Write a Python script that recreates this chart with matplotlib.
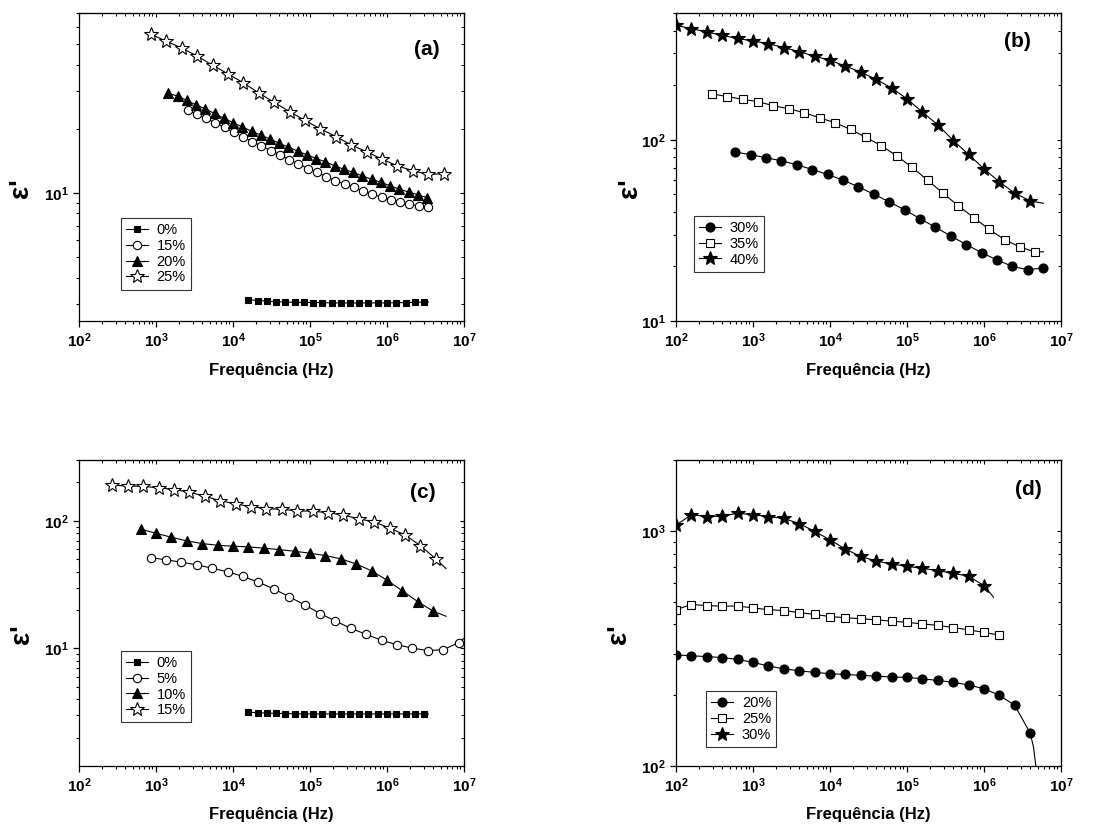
import math
import matplotlib
matplotlib.use('Agg')
import matplotlib.pyplot as plt
from matplotlib.ticker import LogLocator, FuncFormatter, NullFormatter

plt.rcParams['font.family'] = ['Liberation Sans', 'DejaVu Sans']
plt.rcParams['mathtext.fontset'] = 'custom'
plt.rcParams['mathtext.bf'] = 'Liberation Sans:bold'
plt.rcParams['mathtext.rm'] = 'Liberation Sans:bold'

# ============================================================
# Data (frequency in Hz, permittivity e')
# ============================================================
# --- panel (a)
a_f0 = [1.58e4, 2.09e4, 2.75e4, 3.63e4, 4.79e4, 6.31e4, 8.32e4, 1.10e5, 1.45e5, 1.91e5,
        2.51e5, 3.31e5, 4.37e5, 5.75e5, 7.59e5, 1.00e6, 1.32e6, 1.74e6, 2.29e6, 3.02e6]
a_e0 = [3.15, 3.12, 3.10, 3.08, 3.07, 3.06, 3.06, 3.05, 3.05, 3.04,
        3.04, 3.04, 3.04, 3.04, 3.04, 3.04, 3.05, 3.05, 3.06, 3.07]
a_f15 = [2570, 3388, 4467, 5888, 7762, 1.02e4, 1.35e4, 1.78e4, 2.34e4, 3.09e4,
         4.07e4, 5.37e4, 7.08e4, 9.33e4, 1.23e5, 1.62e5, 2.14e5, 2.82e5, 3.72e5, 4.90e5,
         6.46e5, 8.51e5, 1.12e6, 1.48e6, 1.95e6, 2.57e6, 3.39e6]
a_e15 = [24.4, 23.4, 22.4, 21.3, 20.3, 19.3, 18.3, 17.4, 16.6, 15.8,
         15.1, 14.3, 13.7, 13.0, 12.5, 11.9, 11.4, 11.0, 10.6, 10.2,
         9.86, 9.55, 9.27, 9.04, 8.84, 8.68, 8.56]
a_f20 = [1445, 1905, 2512, 3311, 4365, 5754, 7586, 1.00e4, 1.32e4, 1.74e4,
         2.29e4, 3.02e4, 3.98e4, 5.25e4, 6.92e4, 9.12e4, 1.20e5, 1.58e5, 2.09e5, 2.75e5,
         3.63e5, 4.79e5, 6.31e5, 8.32e5, 1.10e6, 1.45e6, 1.91e6, 2.51e6, 3.31e6]
a_e20 = [29.4, 28.5, 27.2, 25.9, 24.8, 23.6, 22.4, 21.4, 20.4, 19.5,
         18.7, 17.9, 17.1, 16.4, 15.7, 15.1, 14.5, 14.0, 13.4, 12.9,
         12.5, 12.0, 11.6, 11.2, 10.8, 10.4, 10.1, 9.8, 9.5]
a_f25 = [860, 1360, 2160, 3430, 5430, 8610, 1.36e4, 2.16e4, 3.43e4, 5.43e4,
         8.61e4, 1.36e5, 2.16e5, 3.43e5, 5.43e5, 8.61e5, 1.36e6, 2.16e6, 3.43e6, 5.43e6]
a_e25 = [55.6, 51.6, 47.9, 43.9, 39.8, 36.2, 32.9, 29.5, 26.6, 24.1,
         21.9, 20.0, 18.4, 16.8, 15.6, 14.4, 13.4, 12.7, 12.2, 12.3]

# --- panel (b)
b_f30 = [589, 933, 1479, 2344, 3715, 5888, 9333, 1.48e4, 2.34e4, 3.72e4,
         5.89e4, 9.33e4, 1.48e5, 2.34e5, 3.72e5, 5.89e5, 9.33e5, 1.48e6, 2.34e6, 3.72e6, 5.89e6]
b_e30 = [85.5, 82.7, 79.5, 76.5, 72.7, 68.5, 64.3, 59.8, 55.0, 50.0,
         45.4, 41.0, 36.7, 32.9, 29.4, 26.4, 23.8, 21.7, 20.0, 19.2, 19.6]
b_f35 = [293, 464, 735, 1165, 1846, 2926, 4638, 7350, 1.17e4, 1.85e4,
         2.93e4, 4.64e4, 7.35e4, 1.17e5, 1.85e5, 2.93e5, 4.64e5, 7.35e5, 1.17e6, 1.85e6,
         2.93e6, 4.64e6]
b_e35 = [179, 173, 167, 162, 154, 148, 141, 132, 124, 114,
         103, 92.7, 81.5, 70.3, 59.8, 50.7, 43.2, 37.2, 32.0, 28.1,
         25.6, 24.0]
b_f40 = [100, 158, 251, 398, 631, 1000, 1585, 2512, 3981, 6310,
         1.0e4, 1.58e4, 2.51e4, 3.98e4, 6.31e4, 1.0e5, 1.58e5, 2.51e5, 3.98e5, 6.31e5,
         1.0e6, 1.58e6, 2.51e6, 3.98e6]
b_e40 = [428, 410, 393, 376, 362, 350, 339, 322, 306, 289,
         274, 255, 236, 215, 193, 168, 142, 121, 99, 83,
         69, 58.6, 50.7, 46.0]

# --- panel (c)
c_f0 = a_f0
c_e0 = [3.17, 3.14, 3.12, 3.10, 3.09, 3.08, 3.07, 3.07, 3.07, 3.07,
        3.07, 3.07, 3.07, 3.07, 3.07, 3.07, 3.07, 3.07, 3.07, 3.08]
c_f5 = [851, 1349, 2138, 3388, 5370, 8511, 1.35e4, 2.14e4, 3.39e4, 5.37e4,
        8.51e4, 1.35e5, 2.14e5, 3.39e5, 5.37e5, 8.51e5, 1.35e6, 2.14e6, 3.39e6, 5.37e6, 8.51e6]
c_e5 = [51.6, 49.5, 47.5, 45.2, 42.6, 39.9, 36.7, 33.1, 29.3, 25.4,
        22.0, 18.8, 16.4, 14.4, 12.9, 11.6, 10.7, 10.06, 9.64, 9.77, 11.1]
c_f10 = [631, 1000, 1585, 2512, 3981, 6310, 1.0e4, 1.58e4, 2.51e4, 3.98e4,
         6.31e4, 1.0e5, 1.58e5, 2.51e5, 3.98e5, 6.31e5, 1.0e6, 1.58e6, 2.51e6, 3.98e6]
c_e10 = [86.1, 80.0, 74.4, 69.7, 66.4, 64.4, 63.3, 62.6, 61.1, 59.6,
         57.8, 55.8, 53.5, 50.4, 46.0, 40.6, 34.3, 28.3, 23.3, 19.6]
c_f15 = [271, 429, 680, 1078, 1708, 2710, 4290, 6800, 1.08e4, 1.71e4,
         2.71e4, 4.29e4, 6.80e4, 1.08e5, 1.71e5, 2.71e5, 4.29e5, 6.80e5, 1.08e6, 1.71e6,
         2.71e6, 4.29e6]
c_e15 = [190, 188, 186, 182, 176, 168, 156, 144, 136, 129,
         125, 123, 120, 119, 116, 111, 104, 98, 88, 77.6,
         64.1, 50.4]

# --- panel (d)
d_f20 = [100, 158, 251, 398, 631, 1000, 1585, 2512, 3981, 6310,
         1.0e4, 1.58e4, 2.51e4, 3.98e4, 6.31e4, 1.0e5, 1.58e5, 2.51e5, 3.98e5, 6.31e5,
         1.0e6, 1.58e6, 2.51e6, 3.98e6]
d_e20 = [297, 294, 292, 289, 284, 276, 266, 259, 254, 250,
         247, 245, 243, 241, 239, 238, 235, 231, 227, 221,
         213, 200, 181, 138]
d_f25 = d_f20[:22]
d_e25 = [462, 486, 481, 478, 479, 470, 462, 458, 449, 441,
         432, 427, 423, 418, 413, 408, 402, 396, 388, 379,
         370, 360]
d_f30 = d_f20[:21]
d_e30 = [1057, 1169, 1150, 1154, 1188, 1169, 1150, 1128, 1074, 994,
         916, 836, 778, 744, 722, 706, 693, 677, 660, 641, 585]

# line continuation past the last marker (no symbol)
a_tail0 = ([3.45e6], [3.07])
b_tail35 = ([5.9e6], [24.1])
b_tail40 = ([5.9e6], [44.6])
c_tail0 = ([3.45e6], [3.07])
c_tail5 = ([1.0e7], [12.0])
c_tail10 = ([5.84e6], [17.9])
c_tail15 = ([5.84e6], [42.3])
d_tail20 = ([4.4e6, 4.75e6], [120, 98])
d_tail30 = ([1.33e6], [522])

XLIM = (1e2, 1e7)

# axes boxes in figure pixels (left, top, right, bottom), figure 1096 x 825
W, H = 1096, 825
BOXES = {'a': (79, 13, 464, 321), 'b': (676, 13, 1061, 321),
         'c': (79, 460, 464, 766), 'd': (676, 460, 1061, 766)}


def sci(v, pos):
    return r'$\mathbf{10^{%d}}$' % int(round(math.log10(v)))


def draw(ax, f, e, label, marker, filled, ms, tail=None):
    xs, ys = list(f), list(e)
    if tail:
        xs += tail[0]
        ys += tail[1]
    ax.plot(xs, ys, color='k', lw=0.8, marker=marker, ms=ms,
            markevery=list(range(len(f))),
            mfc='k' if filled else 'white', mec='k', mew=0.8, label=label)


def style(ax, ylim, tag, tagxy, leg_xy, ylab_x):
    ax.set_xscale('log')
    ax.set_yscale('log')
    ax.set_xlim(*XLIM)
    ax.set_ylim(*ylim)
    for s in ax.spines.values():
        s.set_linewidth(0.9)
    for axis in (ax.xaxis, ax.yaxis):
        axis.set_major_locator(LogLocator(base=10, numticks=10))
        axis.set_minor_locator(LogLocator(base=10, subs=range(2, 10), numticks=20))
        axis.set_major_formatter(FuncFormatter(sci))
        axis.set_minor_formatter(NullFormatter())
    ax.tick_params(which='major', direction='out', length=4.5, width=0.9,
                   labelsize=11, pad=3)
    ax.tick_params(which='minor', direction='out', length=2.5, width=0.8)

    # inward ticks on the top and right spines
    top = ax.secondary_xaxis('top')
    right = ax.secondary_yaxis('right')
    for sec in (top, right):
        sec.tick_params(which='major', direction='in', length=3, width=0.8)
        sec.tick_params(which='minor', direction='in', length=2, width=0.7)
    top.xaxis.set_major_formatter(NullFormatter())
    top.xaxis.set_minor_formatter(NullFormatter())
    right.yaxis.set_major_formatter(NullFormatter())
    right.yaxis.set_minor_formatter(NullFormatter())

    ax.set_xlabel('Frequência (Hz)', fontsize=12, fontweight='bold')
    ax.xaxis.set_label_coords(0.5, -0.135)
    ax.xaxis.label.set_va('top')
    ax.set_ylabel("ε'", fontsize=20, fontweight='bold')
    ax.yaxis.set_label_coords(ylab_x, 0.43)

    ax.text(tagxy[0], tagxy[1], tag, transform=ax.transAxes, fontsize=15,
            fontweight='bold', ha='center', va='center')

    leg = ax.legend(loc='upper left', bbox_to_anchor=leg_xy, borderaxespad=0,
                    fontsize=10.5, frameon=True, fancybox=False, framealpha=1,
                    edgecolor='#333333', handlelength=1.5, handletextpad=0.6,
                    labelspacing=0.12, borderpad=0.35, numpoints=1)
    leg.get_frame().set_linewidth(0.8)


fig = plt.figure(figsize=(W / 100, H / 100), dpi=100)
axes = {}
for k, (l, t, r, b) in BOXES.items():
    axes[k] = fig.add_axes([l / W, 1 - b / H, (r - l) / W, (b - t) / H])

ax = axes['a']
draw(ax, a_f0, a_e0, '0%', 's', True, 5, a_tail0)
draw(ax, a_f15, a_e15, '15%', 'o', False, 6)
draw(ax, a_f20, a_e20, '20%', '^', True, 6.5)
draw(ax, a_f25, a_e25, '25%', '*', False, 10)
style(ax, (2.5, 70), '(a)', (0.904, 0.883), (0.109, 0.334), -0.118)

ax = axes['b']
draw(ax, b_f30, b_e30, '30%', 'o', True, 6.5)
draw(ax, b_f35, b_e35, '35%', 's', False, 5.5, b_tail35)
draw(ax, b_f40, b_e40, '40%', '*', True, 10.5, b_tail40)
style(ax, (10, 500), '(b)', (0.886, 0.906), (0.047, 0.341), -0.087)

ax = axes['c']
draw(ax, c_f0, c_e0, '0%', 's', True, 5, c_tail0)
draw(ax, c_f5, c_e5, '5%', 'o', False, 6, c_tail5)
draw(ax, c_f10, c_e10, '10%', '^', True, 6.5, c_tail10)
draw(ax, c_f15, c_e15, '15%', '*', False, 10, c_tail15)
style(ax, (1.2, 300), '(c)', (0.894, 0.895), (0.109, 0.376), -0.115)

ax = axes['d']
draw(ax, d_f20, d_e20, '20%', 'o', True, 6.5, d_tail20)
draw(ax, d_f25, d_e25, '25%', 's', False, 5.5)
draw(ax, d_f30, d_e30, '30%', '*', True, 10.5, d_tail30)
style(ax, (100, 2000), '(d)', (0.914, 0.905), (0.078, 0.245), -0.115)

fig.savefig('out.png', dpi=100)
